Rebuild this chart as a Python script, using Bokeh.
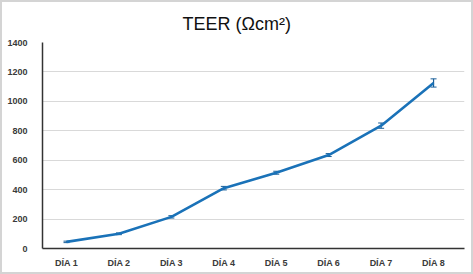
from bokeh.plotting import figure
from bokeh.models import ColumnDataSource, Whisker, FixedTicker
from bokeh.embed import file_html
from bokeh.resources import INLINE

days = ["DÍA 1", "DÍA 2", "DÍA 3", "DÍA 4", "DÍA 5", "DÍA 6", "DÍA 7", "DÍA 8"]
teer = [45, 100, 215, 410, 515, 635, 835, 1125]
err = [5, 6, 8, 12, 10, 10, 18, 28]
y_ticks = [0, 200, 400, 600, 800, 1000, 1200, 1400]

xs = list(range(1, len(days) + 1))
src = ColumnDataSource(dict(x=xs, y=teer,
                            lo=[v - e for v, e in zip(teer, err)],
                            hi=[v + e for v, e in zip(teer, err)]))

p = figure(width=473, height=274, output_backend="svg", toolbar_location=None,
           x_range=(0.542, 8.59), y_range=(0, 1400),
           min_border_left=40, min_border_right=11, min_border_bottom=28, min_border_top=0)
p.styles = {"border": "2px solid #d4d4d4", "box-sizing": "border-box"}
p.title.text = "TEER (Ωcm²)"
p.title.align = "left"
p.title.offset = 140
p.title.text_font = "Liberation Sans"
p.title.text_font_size = "18px"
p.title.text_font_style = "normal"
p.title.text_color = "#111111"
p.title.standoff = 18
p.outline_line_color = None

p.line("x", "y", source=src, line_color="#1a72b8", line_width=2.6)
w = Whisker(base="x", upper="hi", lower="lo", source=src, line_color="#1a5f99", line_width=1.2)
w.upper_head.size = 6
w.lower_head.size = 6
w.upper_head.line_color = "#1a5f99"
w.lower_head.line_color = "#1a5f99"
p.add_layout(w)

p.xaxis.ticker = FixedTicker(ticks=xs)
p.xaxis.major_label_overrides = {x: d for x, d in zip(xs, days)}
p.yaxis.ticker = FixedTicker(ticks=y_ticks)
for ax in (p.xaxis, p.yaxis):
    ax.major_tick_line_color = None
    ax.minor_tick_line_color = None
    ax.axis_line_color = "#333333"
    ax.axis_line_width = 1.5
    ax.major_label_text_font = "Liberation Sans"
    ax.major_label_text_font_size = "9px"
    ax.major_label_text_font_style = "bold"
    ax.major_label_text_color = "#3a3a3a"
p.xaxis.major_label_standoff = 3
p.yaxis.major_label_standoff = 9
p.xgrid.grid_line_color = None
p.ygrid.grid_line_color = "#d9d9d9"
p.ygrid.grid_line_width = 1.2

open("out.html", "w").write(file_html(p, INLINE))
